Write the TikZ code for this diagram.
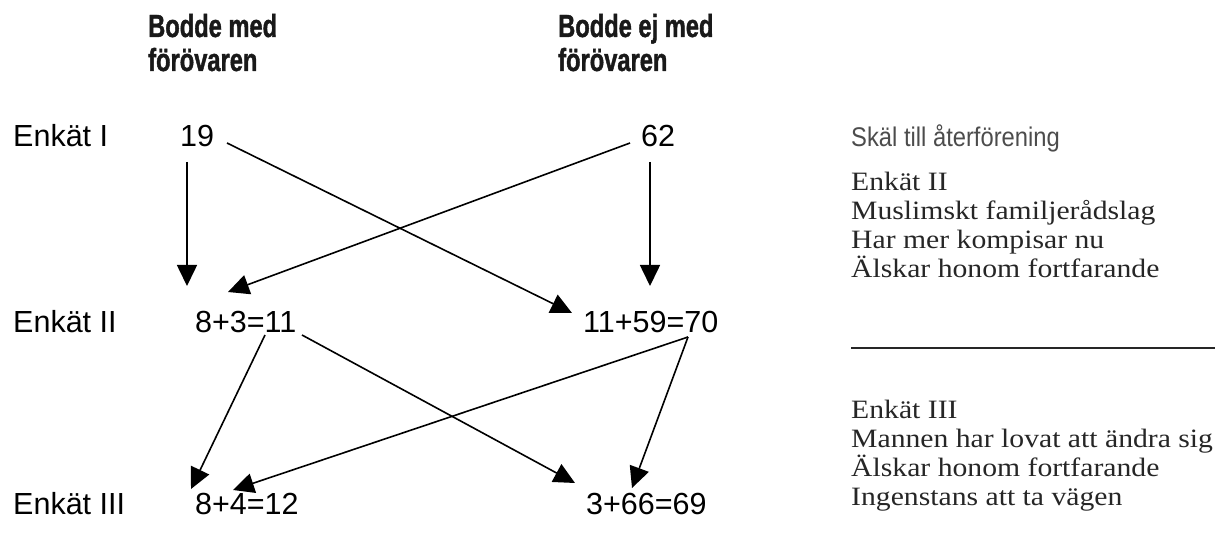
\documentclass[tikz,border=0pt]{standalone}
\usepackage{fontspec}
\setmainfont{Liberation Sans}
\newfontfamily\hdrfont{Liberation Sans}[FakeStretch=0.74,BoldFeatures={FakeBold=1.2}]
\newfontfamily\skalfont{Liberation Sans}[FakeStretch=0.88]
\newfontfamily\noteserif{Liberation Serif}[FakeStretch=1.12]
\usetikzlibrary{arrows.meta}
\begin{document}
\begin{tikzpicture}[x=1pt,y=-1pt,
  every node/.style={inner sep=0pt, anchor=base west},
  lab/.style={font={\fontsize{30.5}{36}\selectfont}},
  hdr/.style={font={\hdrfont\bfseries\fontsize{32}{36}\selectfont}, text=black!90},
  skal/.style={font={\skalfont\fontsize{27}{30}\selectfont}, text=black!70},
  note/.style={font={\noteserif\fontsize{26.5}{30}\selectfont}, text=black!85},
  arr/.style={-{Triangle[length=21pt,width=20pt]}, line width=1.6pt}]
\useasboundingbox (0,0) rectangle (1215,534);
% headers
\node[hdr] (h1a) at (148,37) {Bodde med};
\node[hdr] (h1b) at (148,71) {förövaren};
\node[hdr] (h2a) at (558,37) {Bodde ej med};
\node[hdr] (h2b) at (558,71) {förövaren};
% row labels
\node[lab] (eI) at (13,147) {Enkät I};
\node[lab] (eII) at (13,333) {Enkät II};
\node[lab] (eIII) at (13,514) {Enkät III};
% numbers
\node[lab] (n19) at (180,147) {19};
\node[lab] (n62) at (641,147) {62};
\node[lab] (n811) at (195,333) {8+3=11};
\node[lab] (n70) at (583,333) {11+59=70};
\node[lab] (n812) at (195,514) {8+4=12};
\node[lab] (n69) at (586,514) {3+66=69};
% arrows
\draw[arr] ([shift={(7,15)}]n19.base west) -- ([shift={(-8,-47)}]n811.base west);
\draw[arr] ([shift={(47,-4)}]n19.base west) -- ([shift={(-11,-20)}]n70.base west);
\draw[arr] ([shift={(-11,-4)}]n62.base west) -- ([shift={(33,-41)}]n811.base west);
\draw[arr] ([shift={(9,15)}]n62.base west) -- ([shift={(67,-47)}]n70.base west);
\draw[arr] ([shift={(70,2)}]n811.base west) -- ([shift={(-4,-25)}]n812.base west);
\draw[arr] ([shift={(107,2)}]n811.base west) -- ([shift={(-11,-31)}]n69.base west);
\draw[arr] ([shift={(105,4)}]n70.base west) -- ([shift={(38,-24)}]n812.base west);
\draw[arr] ([shift={(105,4)}]n70.base west) -- ([shift={(46,-26)}]n69.base west);
% right column
\node[skal] (skal) at (851,147) {Skäl till återförening};
\node[note] (t1) at (851,191) {Enkät II};
\node[note] (t2) at (851,220) {Muslimskt familjerådslag};
\node[note] (t3) at (851,249) {Har mer kompisar nu};
\node[note] (t4) at (851,278) {Älskar honom fortfarande};
\coordinate (rl) at (851,348);
\coordinate (rr) at (1215,348);
\draw[line width=2pt, black!85] (rl) -- (rr);
\node[note] (u1) at (851,418) {Enkät III};
\node[note] (u2) at (851,447) {Mannen har lovat att ändra sig};
\node[note] (u3) at (851,476) {Älskar honom fortfarande};
\node[note] (u4) at (851,505) {Ingenstans att ta vägen};
\end{tikzpicture}
\end{document}
